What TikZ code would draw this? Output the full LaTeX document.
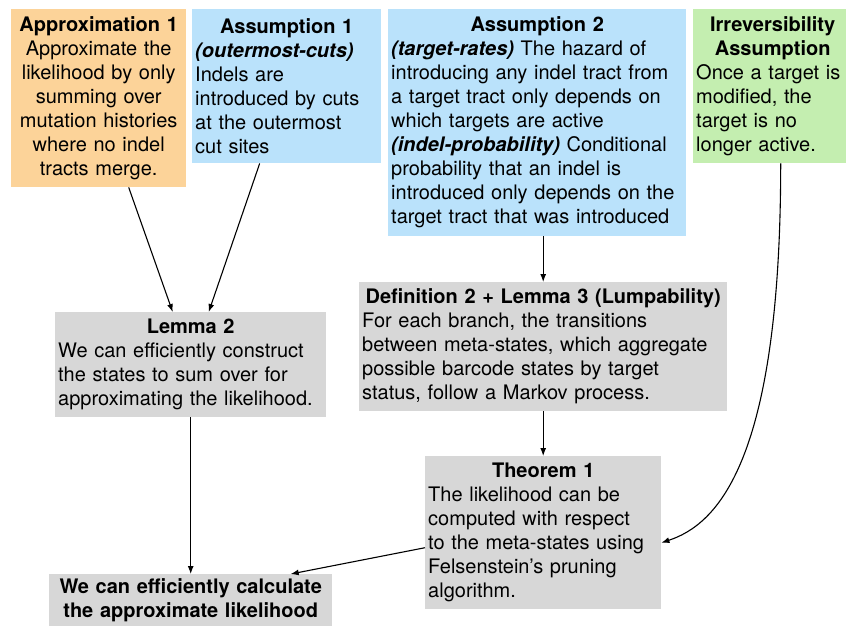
\documentclass[tikz,border=0pt]{standalone}
\usepackage{fontspec}
\setmainfont{TeX Gyre Heros}
\usetikzlibrary{arrows.meta}
\definecolor{apricot}{RGB}{252,211,153}
\definecolor{skyblue}{RGB}{186,226,251}
\definecolor{mint}{RGB}{196,238,176}
\definecolor{cardgray}{RGB}{215,215,215}
\newcommand{\cardtitle}[1]{{\centering\bfseries #1\par}}

\begin{document}
\begin{tikzpicture}[x=1pt,y=-1pt,>={Latex[length=8pt,width=6pt]},
  card/.style={anchor=north west,inner xsep=3pt,inner ysep=0pt,align=left,
    font=\fontsize{20}{24}\selectfont},
  link/.style={->,line width=1.1pt}]
  \useasboundingbox (0,0) rectangle (846,625);
  % top row
  \node[card,fill=apricot,text width=169pt,minimum height=178pt,align=center] (approx) at (11,9)
    {\textbf{Approximation 1}\\Approximate the\\likelihood by only\\summing over\\mutation histories\\where no indel\\tracts merge.};
  \node[card,fill=skyblue,text width=183pt,minimum height=154pt] (assumA) at (192,9)
    {\cardtitle{Assumption 1}\textbf{\textit{(outermost-cuts)}}\\Indels are\\introduced by cuts\\at the outermost\\cut sites};
  \node[card,fill=skyblue,text width=292pt,minimum height=227pt] (assumB) at (388,9)
    {\cardtitle{Assumption 2}\textbf{\textit{(target-rates)}} The hazard of\\introducing any indel tract from\\a target tract only depends on\\which targets are active\\\textbf{\textit{(indel-probability)}} Conditional\\probability that an indel is\\introduced only depends on the\\target tract that was introduced};
  \node[card,fill=mint,text width=153pt,minimum height=154pt] (irrev) at (693,9)
    {\cardtitle{Irreversibility\\Assumption}Once a target is\\modified, the\\target is no\\longer active.};
  % middle
  \node[card,fill=cardgray,text width=265pt,minimum height=105pt] (lemma) at (55,312)
    {\cardtitle{Lemma 2}We can efficiently construct\\the states to sum over for\\approximating the likelihood.};
  \node[card,fill=cardgray,text width=362pt,minimum height=129pt] (defn) at (359,282)
    {\cardtitle{Definition 2 + Lemma 3 (Lumpability)}For each branch, the transitions\\between meta-states, which aggregate\\possible barcode states by target\\status, follow a Markov process.};
  \node[card,fill=cardgray,text width=230pt,minimum height=153pt] (thm) at (425,456)
    {\cardtitle{Theorem 1}The likelihood can be\\computed with respect\\to the meta-states using\\Felsenstein's pruning\\algorithm.};
  % bottom
  \node[card,fill=cardgray,text width=277pt,minimum height=53pt,align=center,font=\fontsize{20}{24}\selectfont\bfseries] (final) at (49,574)
    {We can efficiently calculate\\the approximate likelihood};
  % connectors
  \draw[link] ([xshift=30pt]approx.south) -- ([xshift=-18pt]lemma.north);
  \draw[link] ([xshift=-27pt]assumA.south) -- ([xshift=18pt]lemma.north);
  \draw[link] (assumB.south -| defn.north) -- (defn.north);
  \draw[link] (defn.south) -- (thm.north);
  \draw[link] ([xshift=8pt]irrev.south) .. controls +(0,300) and +(55,-18) .. ([yshift=-10pt]thm.east);
  \draw[link] (lemma.south) -- (final.north);
  \draw[link] ([yshift=-15pt]thm.west) -- ([xshift=100pt]final.north);
\end{tikzpicture}
\end{document}
